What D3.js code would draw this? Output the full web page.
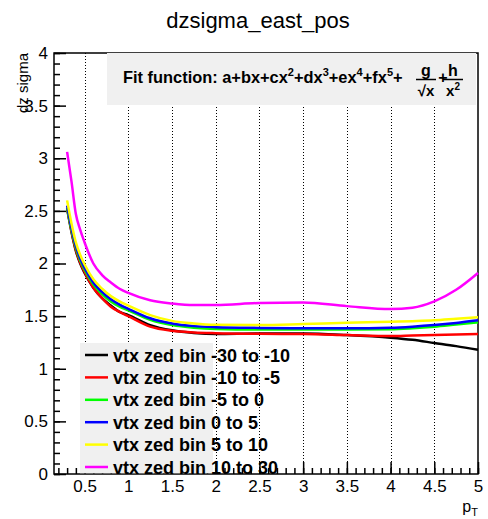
<!DOCTYPE html>
<html>
<head>
<meta charset="utf-8">
<script src="https://cdn.jsdelivr.net/npm/d3@7"></script>
<style>
  body { margin: 0; background: #fff; }
  svg { display: block; font-family: "Liberation Sans", Arial, sans-serif; }
</style>
</head>
<body>
<div id="chart"></div>
<script>
const svgWidth = 488;
const svgHeight = 519;
const frame = { left: 54, right: 478, top: 53, bottom: 474 };

// pT sample points and fitted dz sigma values
const ptValues = [0.3, 0.35, 0.4, 0.45, 0.5, 0.6, 0.7, 0.8, 0.9, 1.0, 1.25, 1.5, 1.75, 2.0, 2.5, 3.0, 3.5, 4.0, 4.25, 4.5, 4.75, 5.0];
const binM30toM10 = [2.52, 2.30, 2.12, 2.00, 1.91, 1.77, 1.67, 1.60, 1.54, 1.51, 1.415, 1.365, 1.34, 1.33, 1.335, 1.335, 1.32, 1.295, 1.275, 1.245, 1.215, 1.18];
const binM10toM5 = [2.53, 2.31, 2.13, 2.01, 1.92, 1.77, 1.67, 1.59, 1.54, 1.50, 1.40, 1.36, 1.345, 1.338, 1.332, 1.33, 1.32, 1.31, 1.315, 1.32, 1.325, 1.33];
const binM5to0 = [2.53, 2.32, 2.15, 2.03, 1.94, 1.80, 1.71, 1.64, 1.59, 1.555, 1.465, 1.415, 1.39, 1.378, 1.372, 1.372, 1.372, 1.375, 1.385, 1.40, 1.42, 1.44];
const bin0to5 = [2.55, 2.34, 2.17, 2.05, 1.96, 1.82, 1.73, 1.66, 1.61, 1.57, 1.48, 1.43, 1.405, 1.395, 1.388, 1.385, 1.385, 1.39, 1.40, 1.415, 1.435, 1.46];
const bin5to10 = [2.60, 2.38, 2.20, 2.08, 1.99, 1.85, 1.76, 1.69, 1.64, 1.60, 1.51, 1.455, 1.43, 1.418, 1.415, 1.425, 1.437, 1.446, 1.452, 1.46, 1.475, 1.49];
const bin10to30 = [3.06, 2.78, 2.47, 2.32, 2.20, 2.00, 1.89, 1.82, 1.76, 1.72, 1.65, 1.62, 1.605, 1.605, 1.625, 1.63, 1.595, 1.567, 1.58, 1.64, 1.75, 1.91];

const seriesNames = [
  "vtx zed bin -30 to -10",
  "vtx zed bin -10 to -5",
  "vtx zed bin -5 to 0",
  "vtx zed bin 0 to 5",
  "vtx zed bin 5 to 10",
  "vtx zed bin 10 to 30",
];
const seriesValues = [binM30toM10, binM10toM5, binM5to0, bin0to5, bin5to10, bin10to30];
const seriesColors = ["#000000", "#ff0000", "#00ff00", "#0000ff", "#ffff00", "#ff00ff"];

const xTickValues = [0.5, 1, 1.5, 2, 2.5, 3, 3.5, 4, 4.5, 5];
const xTickLabels = ["0.5", "1", "1.5", "2", "2.5", "3", "3.5", "4", "4.5", "5"];
const yTickValues = [0, 0.5, 1, 1.5, 2, 2.5, 3, 3.5, 4];
const yTickLabels = ["0", "0.5", "1", "1.5", "2", "2.5", "3", "3.5", "4"];

const svg = d3.select("#chart")
  .append("svg")
  .attr("width", svgWidth)
  .attr("height", svgHeight)
  .attr("viewBox", `0 0 ${svgWidth} ${svgHeight}`);

const xScale = d3.scaleLinear().domain([0.15, 5]).range([frame.left, frame.right]);
const yScale = d3.scaleLinear().domain([0, 4]).range([frame.bottom, frame.top]);

// dotted vertical grid
svg.append("g")
  .selectAll("line")
  .data(xTickValues.filter((d) => d < 5))
  .join("line")
  .attr("x1", (d) => Math.round(xScale(d)) + 0.5)
  .attr("x2", (d) => Math.round(xScale(d)) + 0.5)
  .attr("y1", frame.top)
  .attr("y2", frame.bottom)
  .attr("stroke", "#000")
  .attr("stroke-width", 1)
  .attr("stroke-dasharray", "1,2");

// frame
svg.append("rect")
  .attr("x", frame.left)
  .attr("y", frame.top)
  .attr("width", frame.right - frame.left)
  .attr("height", frame.bottom - frame.top)
  .attr("fill", "none")
  .attr("stroke", "#000")
  .attr("stroke-width", 1.5);

// axes: minor then major ticks, pointing inward
function styleAxis(g) {
  g.select(".domain").remove();
  g.selectAll("line").attr("stroke", "#000").attr("stroke-width", 1.5);
}

svg.append("g")
  .attr("transform", `translate(${frame.left},0)`)
  .call(d3.axisLeft(yScale).tickValues(d3.range(0, 4.001, 0.1)).tickSize(-6).tickFormat(""))
  .call(styleAxis);

svg.append("g")
  .attr("transform", `translate(${frame.left},0)`)
  .call(d3.axisLeft(yScale).tickValues(yTickValues).tickSize(-12).tickPadding(6)
    .tickFormat((d, i) => yTickLabels[i]))
  .call(styleAxis)
  .call((g) => g.selectAll("text").attr("font-size", 17).attr("fill", "#000"));

svg.append("g")
  .attr("transform", `translate(0,${frame.bottom})`)
  .call(d3.axisBottom(xScale).tickValues(d3.range(0.2, 5.001, 0.1)).tickSize(-6).tickFormat(""))
  .call(styleAxis);

svg.append("g")
  .attr("transform", `translate(0,${frame.bottom})`)
  .call(d3.axisBottom(xScale).tickValues(xTickValues).tickSize(-12).tickPadding(6)
    .tickFormat((d, i) => xTickLabels[i]))
  .call(styleAxis)
  .call((g) => g.selectAll("text").attr("font-size", 17).attr("fill", "#000"));

// curves
const line = d3.line()
  .x((d) => xScale(d[0]))
  .y((d) => yScale(d[1]))
  .curve(d3.curveMonotoneX);

svg.append("g")
  .selectAll("path")
  .data(seriesValues)
  .join("path")
  .attr("d", (vals) => line(vals.map((v, i) => [ptValues[i], v])))
  .attr("fill", "none")
  .attr("stroke", (d, i) => seriesColors[i])
  .attr("stroke-width", 2.5);

// fit function pave
const pave = svg.append("g");
pave.append("rect")
  .attr("x", 107)
  .attr("y", 53)
  .attr("width", 369)
  .attr("height", 52)
  .attr("fill", "#f0f0f0");

const fitText = pave.append("text")
  .attr("x", 123)
  .attr("y", 83)
  .attr("font-size", 16.4)
  .attr("font-weight", "bold")
  .attr("fill", "#000");
const fitParts = [
  ["Fit function: a+bx+cx", ""], ["2", "sup"], ["+dx", ""], ["3", "sup"],
  ["+ex", ""], ["4", "sup"], ["+fx", ""], ["5", "sup"], ["+", ""],
];
fitParts.forEach(([t, kind], i) => {
  const span = fitText.append("tspan").text(t);
  if (kind === "sup") span.attr("font-size", 11).attr("dy", -7);
  else if (i > 0) span.attr("dy", 7);
});

const fracX = [426, 453];
pave.append("text").attr("x", fracX[0]).attr("y", 76).attr("text-anchor", "middle")
  .attr("font-size", 16).attr("font-weight", "bold").text("g");
pave.append("line").attr("x1", fracX[0] - 10).attr("x2", fracX[0] + 10).attr("y1", 79.5).attr("y2", 79.5)
  .attr("stroke", "#000").attr("stroke-width", 1.5);
pave.append("text").attr("x", fracX[0]).attr("y", 96).attr("text-anchor", "middle")
  .attr("font-size", 15).attr("font-weight", "bold").text("√x");
pave.append("text").attr("x", 443).attr("y", 83).attr("text-anchor", "middle")
  .attr("font-size", 16).attr("font-weight", "bold").text("+");
pave.append("text").attr("x", fracX[1]).attr("y", 76).attr("text-anchor", "middle")
  .attr("font-size", 16).attr("font-weight", "bold").text("h");
pave.append("line").attr("x1", fracX[1] - 10).attr("x2", fracX[1] + 10).attr("y1", 79.5).attr("y2", 79.5)
  .attr("stroke", "#000").attr("stroke-width", 1.5);
const den = pave.append("text").attr("x", fracX[1]).attr("y", 96).attr("text-anchor", "middle")
  .attr("font-size", 15).attr("font-weight", "bold");
den.append("tspan").text("x");
den.append("tspan").attr("font-size", 10).attr("dy", -6).text("2");

// legend
const legend = svg.append("g");
legend.append("rect")
  .attr("x", 80)
  .attr("y", 343)
  .attr("width", 133)
  .attr("height", frame.bottom - 343 - 0.75)
  .attr("fill", "#f0f0f0");

seriesNames.forEach((name, i) => {
  const yRow = 355 + i * 22.4;
  legend.append("line")
    .attr("x1", 85).attr("x2", 108)
    .attr("y1", yRow).attr("y2", yRow)
    .attr("stroke", seriesColors[i])
    .attr("stroke-width", 2.5);
  legend.append("text")
    .attr("x", 113)
    .attr("y", yRow + 6.5)
    .attr("font-size", 18)
    .attr("font-weight", "bold")
    .attr("fill", "#000")
    .text(name);
});

// titles
svg.append("text")
  .attr("x", 258)
  .attr("y", 28)
  .attr("text-anchor", "middle")
  .attr("font-size", 22)
  .text("dzsigma_east_pos");

svg.append("text")
  .attr("transform", "rotate(-90)")
  .attr("x", -53)
  .attr("y", 28)
  .attr("text-anchor", "end")
  .attr("font-size", 15)
  .text("dz sigma");

const xTitle = svg.append("text")
  .attr("x", 478)
  .attr("y", 512)
  .attr("text-anchor", "end")
  .attr("font-size", 16);
xTitle.append("tspan").text("p");
xTitle.append("tspan").attr("font-size", 11).attr("dy", 4).text("T");
</script>
</body>
</html>
